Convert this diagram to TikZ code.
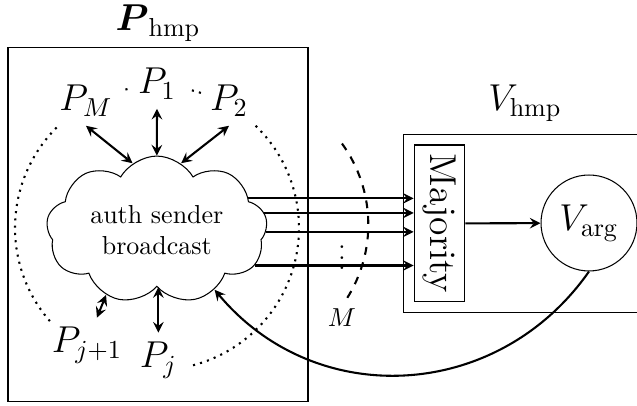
\documentclass[tikz,border=0pt]{standalone}
\usepackage{amsmath,amssymb}
\usepackage{tikz}
\usetikzlibrary{shapes.symbols}

\begin{document}
\begin{tikzpicture}[
        party/.style={font=\Large},
        link/.style={<->, thick},
        msg/.style={->, thick},
        >=stealth
    ]
        \useasboundingbox (0,0) rectangle (8.61,5.487);
        \clip (0,0) rectangle (8.61,5.487);

        % Prover side
        \draw (0.108,0.054) rectangle (4.163,4.839);
        \node[party] (ptitle) at (2.136,5.170) {$\boldsymbol{P}_{\mathrm{hmp}}$};

        \node[cloud, draw, cloud puffs=9, cloud puff arc=120, aspect=1.6,
              minimum width=85pt, minimum height=53pt, inner sep=0pt, align=center]
            (bcast) at (2.12,2.379) {auth sender\\broadcast};

        % Parties on the ring
        \node[party] (P-1) at (2.122,4.352) {$P_1$};
        \node[party] (P-M) at (1.162,4.122) {$P_M$};
        \node[party] (P-2) at (3.095,4.122) {$P_2$};
        \node[party] (P-j1) at (1.176,0.824) {$P_{j+1}$};
        \node[party] (P-j) at (2.14,0.622) {$P_j$};

        % Ring
        \draw[thick, dotted] (2.122,2.406) ++(135:1.919) arc[start angle=135, end angle=221, radius=1.919];
        \draw[thick, dotted] (2.122,2.406) ++(46:1.919) arc[start angle=46, end angle=-77, radius=1.919];
        \draw[thick, dotted] (2.122,2.406) ++(102:1.919) arc[start angle=102, end angle=104, radius=1.919];
        \draw[thick, dotted] (2.122,2.406) ++(72:1.919) arc[start angle=72, end angle=77, radius=1.919];

        % Links to the broadcast
        \draw[link] (P-M.south) -- (bcast.110);
        \draw[link] (P-1.south) -- (bcast.90);
        \draw[link] (P-2.south) -- (bcast.70);
        \draw[link] (P-j1.70) -- (bcast.232);
        \draw[link] (P-j.north) -- (P-j.north |- bcast.270);

        % Verifier side
        \draw (5.460,1.257) rectangle (9.0,3.675);
        \node[party] (vtitle) at (7.096,4.095) {$V_{\mathrm{hmp}}$};
        \node[party, draw, rotate=-90] (maj) at (5.940,2.467) {Majority};
        \node[party, draw, circle, minimum size=36.9pt] (varg) at (7.961,2.473) {$V_{\mathrm{arg}}$};

        % Messages
        \foreach \a in {19,9,-1,-20}
            \draw[msg] (bcast.\a) -- (bcast.\a -| maj.south);
        \node (dots) at (4.622,2.108) {$\vdots$};
        \draw[thick, dashed] (4.622,3.547) arc[start angle=36, end angle=-33, radius=1.865];
        \node (m) at (4.622,1.189) {$M$};

        \draw[msg] (maj) -- (varg);
        \draw[msg] (varg.south) to[out=-125, in=-50, looseness=1.08] (bcast.-46);
    \end{tikzpicture}
\end{document}
